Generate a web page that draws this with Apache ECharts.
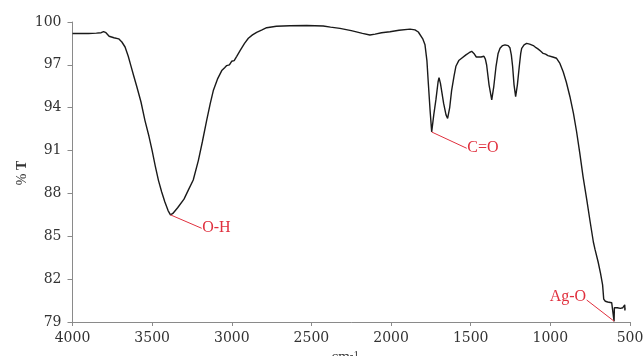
<!DOCTYPE html>
<html>
<head>
<meta charset="utf-8">
<script src="https://cdn.jsdelivr.net/npm/echarts@6/dist/echarts.min.js"></script>
<style>
  html, body { margin: 0; padding: 0; background: #fff; }
  #main { width: 644px; height: 356px; }
</style>
</head>
<body>
<div id="main"></div>
<script>
// FTIR spectrum
const wavenumber = [
  4000, 3950, 3900, 3850, 3820, 3805, 3790, 3770, 3740, 3710, 3690, 3670, 3650, 3635, 3615, 3597,
  3570, 3545, 3520, 3500, 3480, 3460, 3440, 3420, 3400, 3385, 3370, 3340, 3300, 3270, 3242, 3210,
  3185, 3158, 3135, 3116, 3090, 3063, 3045, 3032, 3015, 3001, 2985, 2969, 2948, 2920, 2896, 2870,
  2844, 2810, 2781, 2720, 2635, 2530, 2426, 2380, 2321, 2250, 2180, 2133, 2100, 2060, 2007, 1950,
  1881, 1850, 1829, 1800, 1787, 1775, 1766, 1755, 1745, 1732, 1718, 1705, 1699, 1690, 1670, 1655,
  1645, 1632, 1620, 1605, 1593, 1575, 1557, 1530, 1510, 1494, 1480, 1465, 1453, 1435, 1417, 1408,
  1400, 1385, 1368, 1355, 1341, 1328, 1316, 1300, 1285, 1265, 1254, 1245, 1237, 1228, 1218, 1207,
  1195, 1186, 1180, 1165, 1149, 1130, 1107, 1090, 1076, 1060, 1045, 1030, 1015, 1003, 985, 961,
  940, 919, 900, 877, 855, 835, 815, 795, 772, 750, 730, 720, 700, 685, 672, 665,
  655, 640, 615, 603, 600, 598, 580, 560, 545, 535, 533, 532, 531
];
const transmittance = [
  99.2, 99.2, 99.2, 99.22, 99.25, 99.32, 99.25, 99.0, 98.9, 98.82, 98.6, 98.25, 97.6, 97.0, 96.2, 95.5,
  94.4, 93.1, 92.0, 91.0, 89.9, 88.9, 88.1, 87.4, 86.8, 86.5, 86.6, 87.0, 87.6, 88.3, 88.94, 90.3,
  91.6, 93.1, 94.3, 95.2, 96.0, 96.6, 96.8, 96.95, 97.0, 97.25, 97.3, 97.6, 98.0, 98.5, 98.86, 99.1,
  99.28, 99.45, 99.6, 99.7, 99.74, 99.75, 99.72, 99.64, 99.55, 99.4, 99.2, 99.09, 99.15, 99.25, 99.32, 99.42,
  99.5, 99.45, 99.3, 98.8, 98.4, 97.3, 95.7, 93.8, 92.3, 93.5, 94.6, 95.8, 96.1, 95.7, 94.3, 93.5,
  93.25, 94.0, 95.2, 96.2, 96.9, 97.3, 97.46, 97.7, 97.85, 97.95, 97.8, 97.55, 97.45, 97.55, 97.6, 97.4,
  96.99, 95.6, 94.55, 95.5, 96.9, 97.8, 98.16, 98.35, 98.4, 98.35, 98.2, 97.7, 96.9, 95.6, 94.77, 95.6,
  96.9, 97.8, 98.16, 98.4, 98.5, 98.45, 98.35, 98.2, 98.1, 97.95, 97.8, 97.75, 97.65, 97.69, 97.55, 97.46,
  97.1, 96.5, 95.8, 94.77, 93.6, 92.3, 90.8, 89.2, 87.6, 86.0, 84.6, 84.1, 83.2, 82.4, 81.6, 80.6,
  80.45, 80.4, 80.35, 80.3, 79.05, 80.0, 80.0, 79.95, 80.0, 80.0, 80.2, 79.8, 80.0
];

const xTicks = [4000, 3500, 3000, 2500, 2000, 1500, 1000, 500];
const yTicks = [79, 82, 85, 88, 91, 94, 97, 100];

// band annotations: name, point on the curve, end of the leader line
const peakNames = ['O-H', 'C=O', 'Ag-O'];
const peakPoints = [[3385, 86.5], [1745, 92.3], [599, 79.05]];
const labelPoints = [[3189, 85.56], [1525, 91.16], [772, 80.54]];
const labelSide = ['right', 'right', 'left'];

const FONT = 'Liberation Serif';
const TICK_FONT = 'DejaVu Serif';
const RED = '#e0303e';

var myChart = echarts.init(document.getElementById('main'));

var spectrum = wavenumber.map(function (w, i) { return [w, transmittance[i]]; });

var leaders = peakNames.map(function (name, i) {
  return {
    name: name,
    type: 'line',
    silent: true,
    symbol: 'circle',
    symbolSize: 1,
    showSymbol: true,
    animation: false,
    itemStyle: { color: 'rgba(0,0,0,0)' },
    lineStyle: { color: RED, width: 1 },
    label: { show: false },
    data: [
      peakPoints[i],
      {
        value: labelPoints[i],
        label: {
          show: true,
          position: labelSide[i],
          distance: 0,
          offset: labelSide[i] === 'left' ? [0, -3] : [0, 0],
          formatter: name,
          color: RED,
          fontFamily: FONT,
          fontSize: 16
        }
      }
    ]
  };
});

myChart.setOption({
  animation: false,
  grid: { left: 72.5, right: 14, top: 22, bottom: 34, containLabel: false, outerBoundsMode: 'none' },
  // y axis title, drawn by hand so it sits where the original has it
  graphic: [
    {
      type: 'text',
      x: 22,
      y: 173,
      rotation: Math.PI / 2,
      silent: true,
      style: {
        text: '{p|% }{t|T}',
        align: 'center',
        verticalAlign: 'middle',
        rich: {
          p: { fontFamily: FONT, fontSize: 14, fill: '#333' },
          t: { fontFamily: FONT, fontSize: 14, fontWeight: 'bold', fill: '#333' }
        }
      }
    }
  ],
  xAxis: {
    type: 'value',
    inverse: true,
    min: 500,
    max: 4000,
    interval: 500,
    name: '{a|cm}{b|-1}',
    nameLocation: 'middle',
    nameGap: 28,
    nameTextStyle: {
      padding: [0, 12, 0, 0],
      rich: {
        a: { fontFamily: FONT, fontSize: 15, color: '#333', verticalAlign: 'bottom' },
        b: { fontFamily: FONT, fontSize: 11, color: '#333', verticalAlign: 'top' }
      }
    },
    axisLine: { show: true, onZero: false, lineStyle: { color: '#8a8a8a', width: 1 } },
    axisTick: { show: true, length: 4, lineStyle: { color: '#8a8a8a' } },
    axisLabel: {
      show: true,
      margin: 9,
      fontFamily: TICK_FONT,
      fontSize: 14,
      color: '#333',
      formatter: function (v) { return xTicks.indexOf(v) >= 0 ? String(v) : ''; }
    },
    splitLine: { show: false }
  },
  yAxis: {
    type: 'value',
    min: 79,
    max: 100,
    axisLine: { show: true, lineStyle: { color: '#8a8a8a', width: 1 } },
    axisTick: { show: true, length: 5, customValues: yTicks, lineStyle: { color: '#8a8a8a' } },
    axisLabel: {
      show: true,
      customValues: yTicks,
      margin: 11,
      fontFamily: TICK_FONT,
      fontSize: 14,
      color: '#333'
    },
    splitLine: { show: false }
  },
  series: [
    {
      name: '%T',
      type: 'line',
      symbol: 'none',
      silent: true,
      lineStyle: { color: '#1a1a1a', width: 1.4 },
      data: spectrum
    }
  ].concat(leaders)
});
</script>
</body>
</html>
